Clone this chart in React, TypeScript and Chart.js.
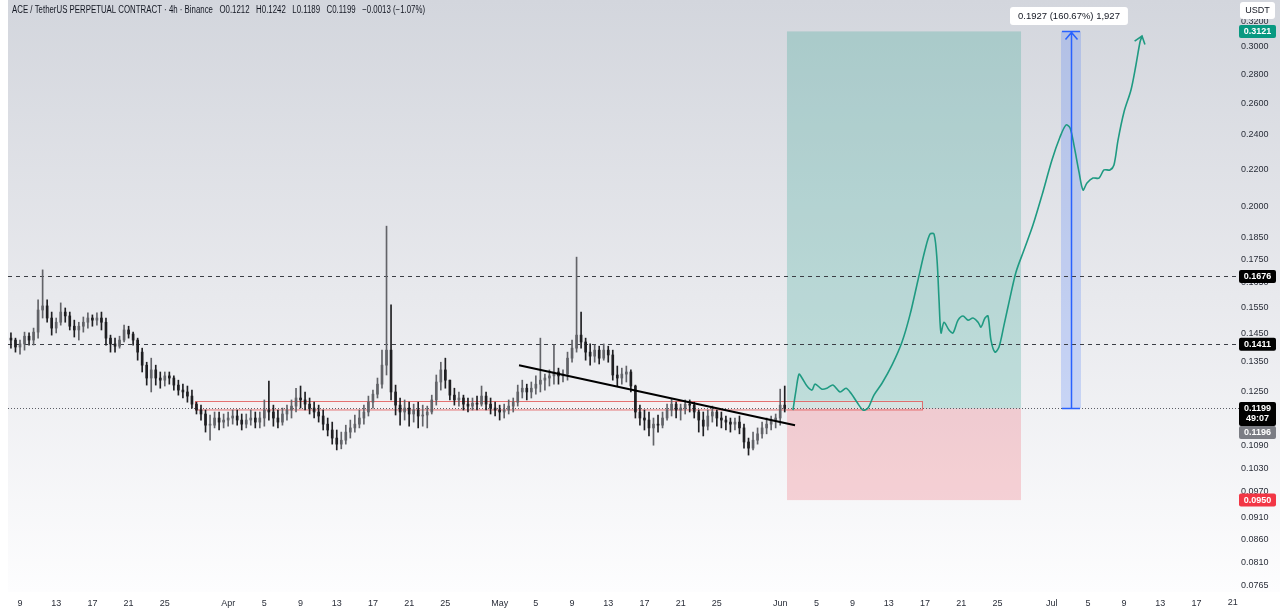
import React, { useEffect, useRef } from 'react';
import { Chart, registerables } from 'chart.js';

Chart.register(...registerables);

// ---- time axis (days since Mar 9) ----
const CANDLE_START_DAY = -1;
const CANDLE_STEP_DAYS = 0.5;
const X_MIN = -1.326;
const X_MAX = 133.15;
const X_TICK_DAYS = [0, 4, 8, 12, 16, 23, 27, 31, 35, 39, 43, 47, 53, 57, 61, 65, 69, 73, 77, 84, 88, 92, 96, 100, 104, 108, 114, 118, 122, 126, 130, 134];
const X_TICK_LABELS = ['9', '13', '17', '21', '25', 'Apr', '5', '9', '13', '17', '21', '25', 'May', '5', '9', '13', '17', '21', '25', 'Jun', '5', '9', '13', '17', '21', '25', 'Jul', '5', '9', '13', '17', '21'];

// ---- price axis ----
const Y_MIN = 0.07524;
const Y_MAX = 0.338;
const Y_TICKS = [0.32, 0.3, 0.28, 0.26, 0.24, 0.22, 0.2, 0.185, 0.175, 0.165, 0.155, 0.145, 0.135, 0.125, 0.115, 0.109, 0.103, 0.097, 0.091, 0.086, 0.081, 0.0765];

// ---- candles (12h) ----
const FIRST_OPEN = 0.1433;
const HIGHS = [
  0.1452, 0.1433, 0.1426, 0.1455, 0.1452, 0.1470, 0.1579, 0.1704, 0.1579, 0.1531,
  0.1508, 0.1567, 0.1547, 0.1531, 0.1500, 0.1492, 0.1512, 0.1528, 0.1520, 0.1528,
  0.1531, 0.1508, 0.1444, 0.1433, 0.1440, 0.1481, 0.1477, 0.1455, 0.1433, 0.1397,
  0.1348, 0.1362, 0.1338, 0.1315, 0.1315, 0.1315, 0.1302, 0.1288, 0.1275, 0.1269,
  0.1256, 0.1218, 0.1209, 0.1194, 0.1179, 0.1188, 0.1188, 0.1182, 0.1188, 0.1194,
  0.1194, 0.1182, 0.1182, 0.1194, 0.1188, 0.1188, 0.1225, 0.1285, 0.1209, 0.1194,
  0.1200, 0.1209, 0.1225, 0.1262, 0.1269, 0.1250, 0.1231, 0.1218, 0.1209, 0.1194,
  0.1170, 0.1158, 0.1135, 0.1129, 0.1149, 0.1164, 0.1179, 0.1194, 0.1209, 0.1237,
  0.1256, 0.1295, 0.1390, 0.1904, 0.1559, 0.1272, 0.1231, 0.1225, 0.1218, 0.1212,
  0.1218, 0.1209, 0.1206, 0.1240, 0.1305, 0.1348, 0.1362, 0.1288, 0.1262, 0.1250,
  0.1240, 0.1231, 0.1231, 0.1237, 0.1269, 0.1250, 0.1231, 0.1218, 0.1209, 0.1212,
  0.1225, 0.1231, 0.1272, 0.1288, 0.1275, 0.1282, 0.1302, 0.1433, 0.1308, 0.1322,
  0.1408, 0.1328, 0.1322, 0.1383, 0.1426, 0.1760, 0.1531, 0.1433, 0.1412, 0.1408,
  0.1404, 0.1412, 0.1404, 0.1390, 0.1335, 0.1328, 0.1335, 0.1322, 0.1272, 0.1209,
  0.1194, 0.1188, 0.1170, 0.1179, 0.1188, 0.1212, 0.1228, 0.1218, 0.1212, 0.1225,
  0.1225, 0.1218, 0.1194, 0.1188, 0.1194, 0.1206, 0.1194, 0.1188, 0.1176, 0.1170,
  0.1170, 0.1176, 0.1152, 0.1112, 0.1129, 0.1141, 0.1158, 0.1170, 0.1176, 0.1182,
  0.1259, 0.1269,
];
const LOWS = [
  0.1397, 0.1383, 0.1376, 0.1390, 0.1408, 0.1408, 0.1433, 0.1508, 0.1492, 0.1444,
  0.1452, 0.1481, 0.1492, 0.1463, 0.1437, 0.1426, 0.1455, 0.1470, 0.1477, 0.1481,
  0.1463, 0.1408, 0.1383, 0.1383, 0.1397, 0.1419, 0.1433, 0.1408, 0.1355, 0.1315,
  0.1272, 0.1250, 0.1272, 0.1262, 0.1269, 0.1275, 0.1256, 0.1240, 0.1231, 0.1218,
  0.1200, 0.1182, 0.1164, 0.1129, 0.1106, 0.1141, 0.1135, 0.1141, 0.1146, 0.1152,
  0.1149, 0.1135, 0.1141, 0.1149, 0.1141, 0.1141, 0.1146, 0.1164, 0.1146, 0.1141,
  0.1149, 0.1164, 0.1170, 0.1188, 0.1200, 0.1194, 0.1182, 0.1170, 0.1158, 0.1135,
  0.1118, 0.1095, 0.1079, 0.1082, 0.1095, 0.1112, 0.1129, 0.1141, 0.1152, 0.1176,
  0.1200, 0.1231, 0.1262, 0.1305, 0.1225, 0.1179, 0.1149, 0.1164, 0.1146, 0.1158,
  0.1141, 0.1146, 0.1141, 0.1182, 0.1209, 0.1256, 0.1262, 0.1225, 0.1209, 0.1206,
  0.1194, 0.1188, 0.1194, 0.1194, 0.1206, 0.1194, 0.1182, 0.1176, 0.1164, 0.1170,
  0.1182, 0.1188, 0.1206, 0.1231, 0.1225, 0.1231, 0.1243, 0.1250, 0.1256, 0.1269,
  0.1275, 0.1275, 0.1282, 0.1288, 0.1348, 0.1383, 0.1397, 0.1355, 0.1338, 0.1348,
  0.1342, 0.1355, 0.1348, 0.1288, 0.1269, 0.1275, 0.1282, 0.1250, 0.1170, 0.1149,
  0.1135, 0.1118, 0.1092, 0.1129, 0.1141, 0.1164, 0.1176, 0.1170, 0.1164, 0.1182,
  0.1188, 0.1170, 0.1129, 0.1118, 0.1135, 0.1158, 0.1146, 0.1141, 0.1135, 0.1129,
  0.1135, 0.1124, 0.1084, 0.1065, 0.1079, 0.1095, 0.1112, 0.1124, 0.1135, 0.1141,
  0.1149, 0.1188,
];
const CLOSES = [
  0.1426, 0.1401, 0.1412, 0.1440, 0.1426, 0.1455, 0.1539, 0.1555, 0.1508, 0.1470,
  0.1492, 0.1531, 0.1516, 0.1477, 0.1463, 0.1477, 0.1492, 0.1508, 0.1500, 0.1508,
  0.1492, 0.1433, 0.1412, 0.1404, 0.1426, 0.1463, 0.1448, 0.1426, 0.1383, 0.1338,
  0.1295, 0.1322, 0.1295, 0.1288, 0.1302, 0.1295, 0.1272, 0.1256, 0.1250, 0.1237,
  0.1212, 0.1194, 0.1182, 0.1149, 0.1149, 0.1170, 0.1158, 0.1164, 0.1170, 0.1176,
  0.1164, 0.1152, 0.1164, 0.1170, 0.1158, 0.1170, 0.1194, 0.1188, 0.1170, 0.1158,
  0.1182, 0.1194, 0.1206, 0.1231, 0.1225, 0.1212, 0.1200, 0.1188, 0.1176, 0.1152,
  0.1135, 0.1112, 0.1095, 0.1106, 0.1129, 0.1141, 0.1152, 0.1170, 0.1188, 0.1218,
  0.1243, 0.1275, 0.1338, 0.1390, 0.1250, 0.1209, 0.1188, 0.1200, 0.1182, 0.1194,
  0.1176, 0.1179, 0.1188, 0.1225, 0.1282, 0.1322, 0.1288, 0.1240, 0.1225, 0.1231,
  0.1212, 0.1206, 0.1215, 0.1212, 0.1237, 0.1212, 0.1200, 0.1194, 0.1188, 0.1194,
  0.1206, 0.1218, 0.1250, 0.1262, 0.1250, 0.1262, 0.1275, 0.1288, 0.1295, 0.1302,
  0.1315, 0.1302, 0.1308, 0.1362, 0.1397, 0.1444, 0.1419, 0.1383, 0.1369, 0.1390,
  0.1362, 0.1390, 0.1373, 0.1305, 0.1295, 0.1308, 0.1315, 0.1269, 0.1188, 0.1170,
  0.1164, 0.1141, 0.1152, 0.1149, 0.1170, 0.1194, 0.1212, 0.1194, 0.1200, 0.1212,
  0.1209, 0.1188, 0.1164, 0.1146, 0.1176, 0.1188, 0.1170, 0.1164, 0.1158, 0.1152,
  0.1158, 0.1141, 0.1101, 0.1084, 0.1106, 0.1124, 0.1141, 0.1152, 0.1164, 0.1170,
  0.1209, 0.1199,
];

// ---- drawings ----
const TREND_DAYS = [55.14, 85.64];
const TREND_PRICES = [0.1338, 0.1149];

const PATH_DAYS = [85.41, 85.75, 86.08, 86.41, 86.96, 87.51, 87.85, 88.62, 89.17, 89.83, 90.61, 91.27, 91.82, 92.49, 93.15, 93.7, 94.36, 95.25, 96.35, 97.46, 98.34, 99.23, 100.0, 100.55, 101.0, 101.33, 101.55, 101.77, 102.1, 102.65, 103.09, 103.65, 104.2, 104.75, 105.3, 105.86, 106.19, 106.63, 106.96, 107.29, 107.73, 108.18, 108.73, 109.39, 110.06, 110.94, 111.93, 112.93, 114.03, 114.92, 115.58, 116.02, 116.46, 117.02, 117.46, 117.9, 118.56, 119.23, 119.78, 120.44, 120.88, 121.33, 121.99, 122.76, 123.31, 123.76, 123.98];
const PATH_PRICES = [0.1194, 0.1256, 0.1308, 0.1295, 0.1269, 0.1256, 0.1275, 0.1259, 0.1262, 0.1272, 0.125, 0.1262, 0.1246, 0.1218, 0.1194, 0.12, 0.124, 0.1278, 0.1338, 0.1419, 0.152, 0.1661, 0.1792, 0.1866, 0.1866, 0.1747, 0.1579, 0.1452, 0.1492, 0.1463, 0.1452, 0.15, 0.1516, 0.15, 0.1508, 0.1492, 0.1474, 0.1508, 0.1516, 0.1426, 0.1383, 0.1401, 0.1481, 0.1587, 0.1695, 0.1792, 0.1909, 0.206, 0.2252, 0.2387, 0.2461, 0.2444, 0.2339, 0.2184, 0.2087, 0.2124, 0.2151, 0.2151, 0.2196, 0.2196, 0.2224, 0.2369, 0.2544, 0.269, 0.2866, 0.3038, 0.3085];

const LEVEL_UPPER = 0.1676;
const LEVEL_LOWER = 0.1411;
const LAST_PRICE = 0.1199;
const MARK_PRICE = 0.1196;
const TARGET_PRICE = 0.3121;
const STOP_PRICE = 0.095;
const ZONE_DAYS = [19.34, 99.67];
const ZONE_PRICES = [0.1197, 0.1223];
const POSITION_DAYS = [84.75, 110.61];
const MEASURE_DAYS = [115.03, 117.24];
const MEASURE_LINE_DAY = 116.13;
const MEASURE_TEXT = '0.1927 (160.67%) 1,927';
const COUNTDOWN = '49:07';
const TITLE = 'ACE / TetherUS PERPETUAL CONTRACT · 4h · Binance   O0.1212   H0.1242   L0.1189   C0.1199   −0.0013 (−1.07%)';

const FONT = "'Liberation Sans', Arial, sans-serif";
const TEXT = '#2a2e39';
const UP = '#626368';
const DOWN = '#1f1f22';

function buildCandles() {
  return CLOSES.map((close, i) => ({
    x: CANDLE_START_DAY + i * CANDLE_STEP_DAYS,
    open: i === 0 ? FIRST_OPEN : CLOSES[i - 1],
    high: HIGHS[i],
    low: LOWS[i],
    close,
  }));
}

function roundRect(ctx: CanvasRenderingContext2D, x: number, y: number, w: number, h: number, r: number) {
  ctx.beginPath();
  ctx.moveTo(x + r, y);
  ctx.lineTo(x + w - r, y);
  ctx.quadraticCurveTo(x + w, y, x + w, y + r);
  ctx.lineTo(x + w, y + h - r);
  ctx.quadraticCurveTo(x + w, y + h, x + w - r, y + h);
  ctx.lineTo(x + r, y + h);
  ctx.quadraticCurveTo(x, y + h, x, y + h - r);
  ctx.lineTo(x, y + r);
  ctx.quadraticCurveTo(x, y, x + r, y);
  ctx.closePath();
}

export default function App() {
  const ref = useRef<HTMLCanvasElement>(null);

  useEffect(() => {
    document.body.style.margin = '0';
    const canvas = ref.current;
    if (!canvas) return;
    const candles = buildCandles();
    const colors = candles.map((c) => (c.close >= c.open ? UP : DOWN));

    const overlay = {
      id: 'overlay',
      beforeDraw(chart: any) {
        const { ctx, width, height, chartArea } = chart;
        ctx.save();
        ctx.fillStyle = '#ffffff';
        ctx.fillRect(0, 0, width, height);
        const g = ctx.createLinearGradient(0, 0, 0, chartArea.bottom);
        g.addColorStop(0, '#d3d6dd');
        g.addColorStop(0.5, '#e8e9ed');
        g.addColorStop(1, '#fdfdfe');
        ctx.fillStyle = g;
        ctx.fillRect(chartArea.left, 0, width - chartArea.left, chartArea.bottom);
        ctx.restore();
      },
      beforeDatasetsDraw(chart: any) {
        const { ctx, chartArea } = chart;
        const xs = chart.scales.x;
        const ys = chart.scales.y;
        const px = (d: number) => xs.getPixelForValue(d);
        const py = (p: number) => ys.getPixelForValue(p);
        ctx.save();
        const x1 = px(POSITION_DAYS[0]);
        const x2 = px(POSITION_DAYS[1]);
        ctx.fillStyle = 'rgba(8,153,129,0.21)';
        ctx.fillRect(x1, py(TARGET_PRICE), x2 - x1, py(LAST_PRICE) - py(TARGET_PRICE));
        ctx.fillStyle = 'rgba(242,54,69,0.2)';
        ctx.fillRect(x1, py(LAST_PRICE), x2 - x1, py(STOP_PRICE) - py(LAST_PRICE));
        const m1 = px(MEASURE_DAYS[0]);
        const m2 = px(MEASURE_DAYS[1]);
        ctx.fillStyle = 'rgba(41,98,255,0.2)';
        ctx.fillRect(m1, py(TARGET_PRICE), m2 - m1, py(LAST_PRICE) - py(TARGET_PRICE));
        const z1 = px(ZONE_DAYS[0]);
        const z2 = px(ZONE_DAYS[1]);
        const zt = py(ZONE_PRICES[1]);
        const zb = py(ZONE_PRICES[0]);
        ctx.fillStyle = 'rgba(255,240,242,0.35)';
        ctx.fillRect(z1, zt, z2 - z1, zb - zt);
        ctx.strokeStyle = 'rgba(226,90,90,0.85)';
        ctx.lineWidth = 1;
        ctx.strokeRect(Math.round(z1) + 0.5, Math.round(zt) + 0.5, z2 - z1, zb - zt);
        ctx.strokeStyle = '#3b3e45';
        ctx.setLineDash([4, 4]);
        for (const lv of [LEVEL_UPPER, LEVEL_LOWER]) {
          const y = Math.round(py(lv)) + 0.5;
          ctx.beginPath();
          ctx.moveTo(chartArea.left, y);
          ctx.lineTo(1239, y);
          ctx.stroke();
        }
        ctx.strokeStyle = '#5b5e66';
        ctx.setLineDash([1, 2]);
        const yl = Math.round(py(LAST_PRICE)) + 0.5;
        ctx.beginPath();
        ctx.moveTo(chartArea.left, yl);
        ctx.lineTo(1239, yl);
        ctx.stroke();
        ctx.restore();
      },
      afterDatasetsDraw(chart: any) {
        const { ctx } = chart;
        const xs = chart.scales.x;
        const ys = chart.scales.y;
        ctx.save();
        const xm = Math.round(xs.getPixelForValue(MEASURE_LINE_DAY)) + 0.5;
        const yt = ys.getPixelForValue(TARGET_PRICE);
        const yb = ys.getPixelForValue(LAST_PRICE);
        const m1 = xs.getPixelForValue(MEASURE_DAYS[0]);
        const m2 = xs.getPixelForValue(MEASURE_DAYS[1]);
        ctx.strokeStyle = '#2962ff';
        ctx.lineWidth = 1.5;
        ctx.beginPath();
        ctx.moveTo(xm, yb);
        ctx.lineTo(xm, yt);
        ctx.moveTo(m1 + 1, yt);
        ctx.lineTo(m2 - 1, yt);
        ctx.moveTo(m1 + 1, yb);
        ctx.lineTo(m2 - 1, yb);
        ctx.moveTo(xm - 6, yt + 8);
        ctx.lineTo(xm, yt + 1);
        ctx.lineTo(xm + 6, yt + 8);
        ctx.stroke();
        const n = PATH_DAYS.length;
        const tx = xs.getPixelForValue(PATH_DAYS[n - 1]);
        const ty = ys.getPixelForValue(PATH_PRICES[n - 1]);
        const sx = xs.getPixelForValue(PATH_DAYS[n - 2]);
        const sy = ys.getPixelForValue(PATH_PRICES[n - 2]);
        const ang = Math.atan2(ty - sy, tx - sx);
        ctx.strokeStyle = '#1f9a82';
        ctx.lineWidth = 1.6;
        ctx.beginPath();
        ctx.moveTo(tx + 9 * Math.cos(ang + Math.PI - 0.65), ty + 9 * Math.sin(ang + Math.PI - 0.65));
        ctx.lineTo(tx, ty);
        ctx.lineTo(tx + 9 * Math.cos(ang + Math.PI + 0.65), ty + 9 * Math.sin(ang + Math.PI + 0.65));
        ctx.stroke();
        ctx.restore();
      },
      afterDraw(chart: any) {
        const { ctx } = chart;
        const xs = chart.scales.x;
        const ys = chart.scales.y;
        ctx.save();
        // title, horizontally condensed to the reference width
        ctx.font = `10px ${FONT}`;
        const w10 = ctx.measureText(TITLE).width;
        const sx = 413 / w10;
        ctx.save();
        ctx.translate(12, 10);
        ctx.scale(sx, 1);
        ctx.fillStyle = '#131722';
        ctx.textBaseline = 'middle';
        ctx.textAlign = 'left';
        ctx.fillText(TITLE, 0, 0);
        ctx.restore();
        // extra time label under the price scale
        ctx.font = `9px ${FONT}`;
        ctx.fillStyle = TEXT;
        ctx.textAlign = 'center';
        ctx.textBaseline = 'top';
        const lastDay = X_TICK_DAYS[X_TICK_DAYS.length - 1];
        ctx.fillText(X_TICK_LABELS[X_TICK_LABELS.length - 1], xs.getPixelForValue(lastDay), 598);
        // USDT box
        ctx.fillStyle = '#ffffff';
        roundRect(ctx, 1240, 2, 35, 17, 3);
        ctx.fill();
        ctx.fillStyle = '#131722';
        ctx.textBaseline = 'middle';
        ctx.font = `9px ${FONT}`;
        ctx.fillText('USDT', 1257.5, 11);
        // price badges
        const badge = (y: number, h: number, bg: string, lines: string[]) => {
          ctx.fillStyle = bg;
          roundRect(ctx, 1239, y - 6.5, 37, h, 2);
          ctx.fill();
          ctx.fillStyle = '#ffffff';
          ctx.textAlign = 'center';
          ctx.textBaseline = 'middle';
          ctx.font = `bold 9px ${FONT}`;
          lines.forEach((t, i) => ctx.fillText(t, 1257.5, y + i * 10.5));
        };
        badge(ys.getPixelForValue(TARGET_PRICE), 13, '#089981', [TARGET_PRICE.toFixed(4)]);
        badge(ys.getPixelForValue(LEVEL_UPPER), 13, '#000000', [LEVEL_UPPER.toFixed(4)]);
        badge(ys.getPixelForValue(LEVEL_LOWER), 13, '#000000', [LEVEL_LOWER.toFixed(4)]);
        const yLast = ys.getPixelForValue(LAST_PRICE);
        badge(yLast, 24, '#000000', [LAST_PRICE.toFixed(4), COUNTDOWN]);
        badge(yLast + 24, 13, '#7b7d84', [MARK_PRICE.toFixed(4)]);
        badge(ys.getPixelForValue(STOP_PRICE), 13, '#f23645', [STOP_PRICE.toFixed(4)]);
        // measure label
        ctx.font = `9.5px ${FONT}`;
        const tw = ctx.measureText(MEASURE_TEXT).width;
        const cx = xs.getPixelForValue(MEASURE_LINE_DAY) - 2;
        ctx.fillStyle = '#ffffff';
        roundRect(ctx, cx - tw / 2 - 8, 7, tw + 16, 18, 3);
        ctx.fill();
        ctx.fillStyle = '#131722';
        ctx.textAlign = 'center';
        ctx.textBaseline = 'middle';
        ctx.fillText(MEASURE_TEXT, cx, 16);
        ctx.restore();
      },
    };

    const chart = new Chart(canvas, {
      type: 'bar',
      data: {
        datasets: [
          {
            type: 'line',
            label: 'trend',
            data: TREND_DAYS.map((d, i) => ({ x: d, y: TREND_PRICES[i] })),
            borderColor: '#000000',
            borderWidth: 2,
            pointRadius: 0,
            order: 0,
          },
          {
            type: 'line',
            label: 'projection',
            data: PATH_DAYS.map((d, i) => ({ x: d, y: PATH_PRICES[i] })),
            borderColor: '#1f9a82',
            borderWidth: 1.6,
            pointRadius: 0,
            tension: 0.3,
            order: 0,
          },
          {
            type: 'bar',
            label: 'wicks',
            data: candles.map((c) => ({ x: c.x, y: [c.low, c.high] })),
            backgroundColor: colors,
            barThickness: 1,
            grouped: false,
            order: 2,
          },
          {
            type: 'bar',
            label: 'bodies',
            data: candles.map((c) => ({ x: c.x, y: [Math.min(c.open, c.close), Math.max(c.open, c.close)] })),
            backgroundColor: colors,
            barThickness: 2,
            minBarLength: 1,
            grouped: false,
            order: 1,
          },
        ] as any,
      },
      options: {
        responsive: false,
        animation: false,
        devicePixelRatio: 1,
        events: [],
        layout: { padding: { left: 8, top: 0, right: 0, bottom: 0 }, autoPadding: false },
        plugins: { legend: { display: false }, tooltip: { enabled: false } },
        scales: {
          x: {
            type: 'linear',
            min: X_MIN,
            max: X_MAX,
            offset: false,
            grid: { display: false, drawTicks: false },
            border: { display: false },
            afterBuildTicks: (s: any) => {
              s.ticks = X_TICK_DAYS.filter((v) => v <= X_MAX).map((v) => ({ value: v }));
            },
            afterFit: (s: any) => {
              s.height = 23;
            },
            ticks: {
              autoSkip: false,
              maxRotation: 0,
              padding: 6,
              color: TEXT,
              font: { family: FONT, size: 9 },
              callback: (v: any) => X_TICK_LABELS[X_TICK_DAYS.indexOf(Number(v))] ?? '',
            },
          },
          y: {
            type: 'logarithmic',
            position: 'right',
            min: Y_MIN,
            max: Y_MAX,
            bounds: 'data',
            grid: { display: false, drawTicks: false },
            border: { display: false },
            afterBuildTicks: (s: any) => {
              s.ticks = Y_TICKS.map((v) => ({ value: v }));
              s.min = Y_MIN;
              s.max = Y_MAX;
            },
            afterFit: (s: any) => {
              s.width = 55;
              s.paddingTop = 0;
              s.paddingBottom = 0;
            },
            ticks: {
              padding: 16,
              color: TEXT,
              font: { family: FONT, size: 9 },
              callback: (v: any) => Number(v).toFixed(4),
            },
          },
        },
      } as any,
      plugins: [overlay],
    });
    return () => chart.destroy();
  }, []);

  return <canvas ref={ref} width={1280} height={615} style={{ display: 'block', width: '1280px', height: '615px' }} />;
}
